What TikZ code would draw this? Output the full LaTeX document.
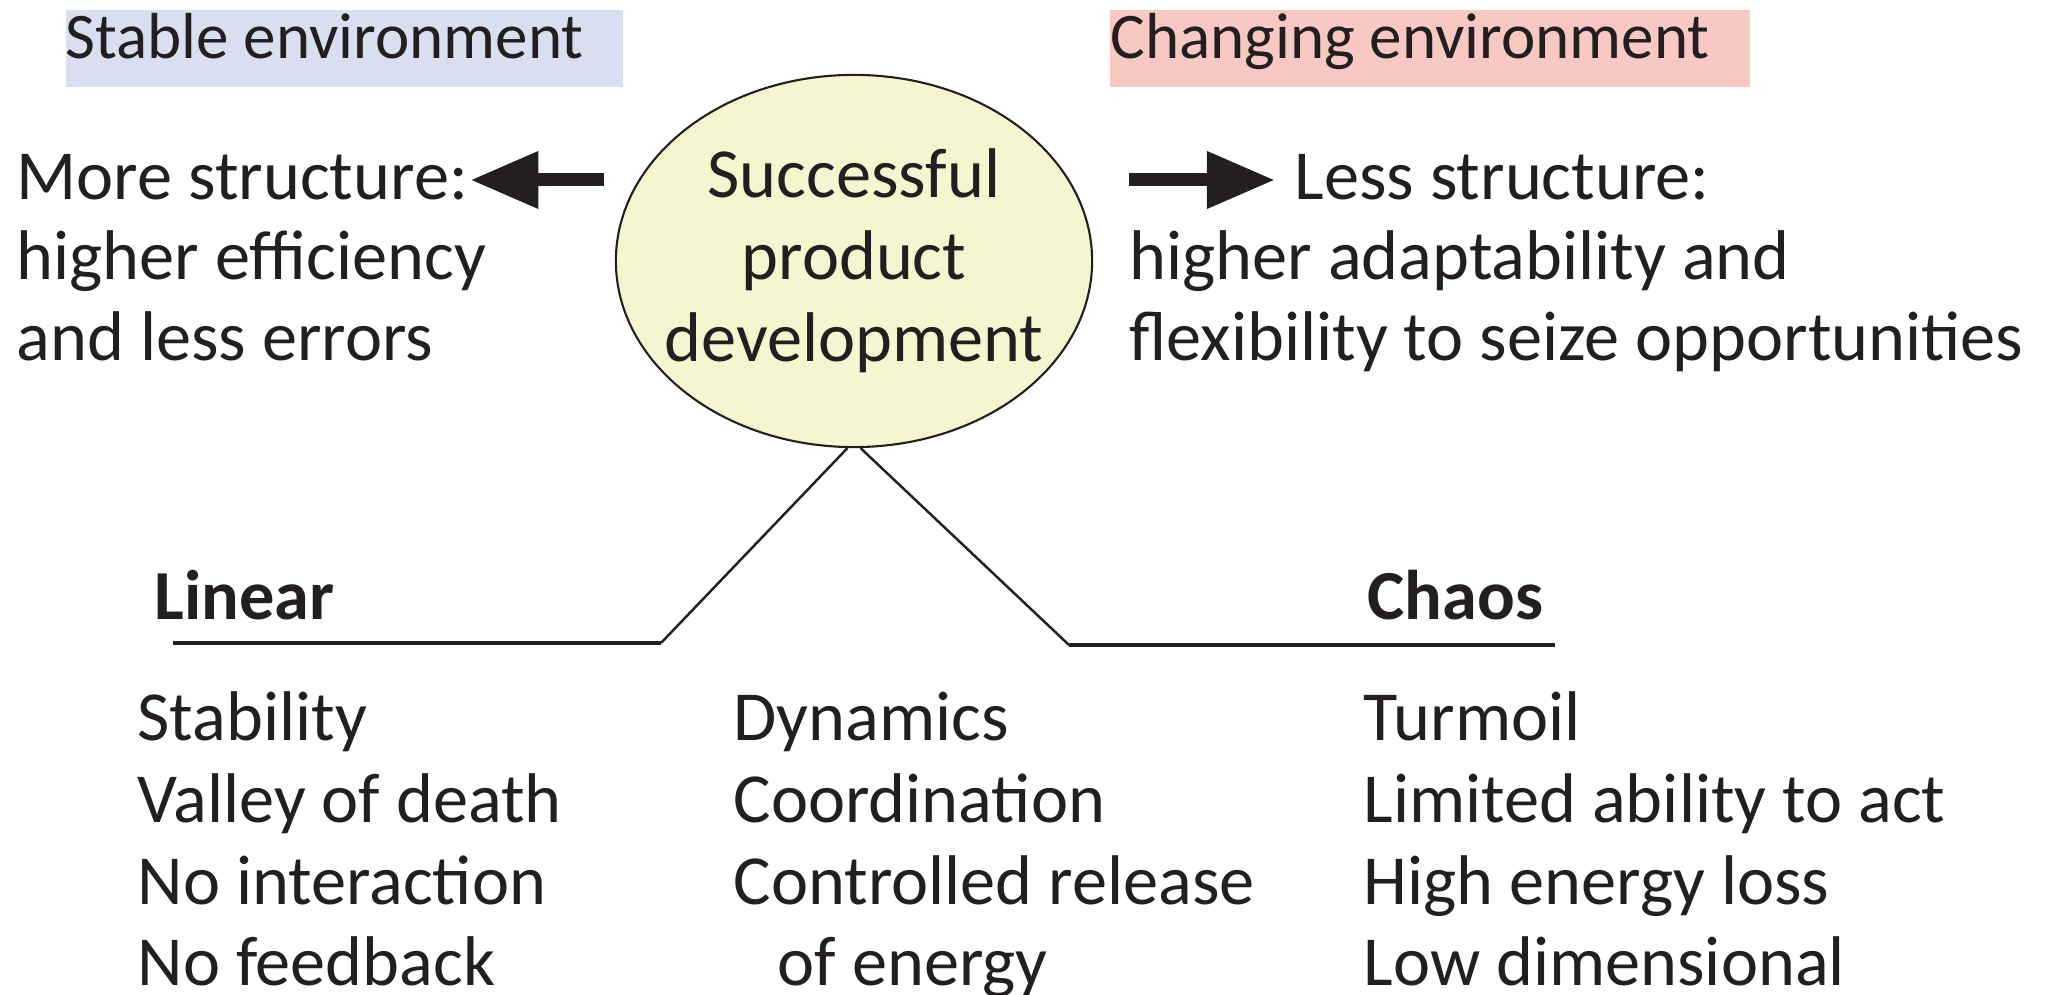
\documentclass[tikz,border=0pt]{standalone}
\usepackage{fontspec}
\setmainfont{Carlito}
\usetikzlibrary{shapes.geometric,arrows.meta}
\definecolor{ink}{RGB}{35,31,32}
\definecolor{stableblue}{RGB}{217,222,240}
\definecolor{changered}{RGB}{248,200,195}
\definecolor{devyellow}{RGB}{245,245,208}

\begin{document}
\begin{tikzpicture}[x=0.01cm,y=-0.01cm,
    txt/.style={inner sep=0pt,anchor=base west,align=left,text=ink,font=\fontsize{20}{23.3}\selectfont},
    headtxt/.style={txt,font=\fontsize{18.5}{22}\selectfont},
    boldtxt/.style={txt,font=\fontsize{20}{23.3}\selectfont\bfseries},
    envbox/.style={inner sep=0pt,anchor=north west,minimum height=0.77cm},
    bigarrow/.style={draw=ink,line width=0.13cm,-{Triangle[length=0.68cm,width=0.54cm]}},
    slant/.style={draw=ink,line width=0.7pt},
    flat/.style={draw=ink,line width=1.1pt}]
  \useasboundingbox (0,0) rectangle (2045,995);
  % Environments
  \node[envbox,fill=stableblue,minimum width=5.57cm] (stablebox) at (65,9) {};
  \node[headtxt] (stable) at (65,59) {Stable environment};
  \node[envbox,fill=changered,minimum width=6.40cm] (changebox) at (1109,9) {};
  \node[headtxt] (changing) at (1110,59) {Changing environment};
  % Centre
  \node[ellipse,draw=ink,line width=0.6pt,fill=devyellow,minimum width=4.76cm,
        minimum height=3.72cm,inner xsep=-0.3cm,inner ysep=0pt,align=center,text=ink,
        font=\fontsize{20}{23.3}\selectfont] (dev) at (854,261)
        {Successful\\product\\development};
  % Structure (base = last line)
  \node[txt] (more) at (16,200) {More structure:};
  \node[txt] (eff) at (16,361) {higher efficiency\\and less errors};
  \node[txt] (less) at (1294,200) {Less structure:};
  \node[txt] (adapt) at (1129,361) {higher adaptability and\\flexibility to seize opportunities};
  \coordinate (lstart) at (604,180);
  \coordinate (rstart) at (1129,180);
  \draw[bigarrow,shorten >=0.5pt] (lstart) -- (lstart -| more.east);
  \draw[bigarrow,shorten >=5.4pt] (rstart) -- (rstart -| less.west);
  % Branches
  \coordinate (lcorner) at (661,643);
  \coordinate (lend) at (173,643);
  \coordinate (rcorner) at (1069,645);
  \coordinate (rend) at (1555,645);
  \draw[slant] (dev.268) -- (lcorner);
  \draw[flat] (lcorner) -- (lend);
  \draw[slant] (dev.272.5) -- (rcorner);
  \draw[flat] (rcorner) -- (rend);
  \node[boldtxt] (linear) at (154,620) {Linear};
  \node[boldtxt] (chaos) at (1367,620) {Chaos};
  % Columns
  \node[txt] (lincol) at (137,986) {Stability\\Valley of death\\No interaction\\No feedback};
  \node[txt] (midcol) at (733,986) {Dynamics\\Coordination\\Controlled release\\\hspace*{12.5pt}of energy};
  \node[txt] (chaoscol) at (1363,986) {Turmoil\\Limited ability to act\\High energy loss\\Low dimensional};
\end{tikzpicture}
\end{document}
